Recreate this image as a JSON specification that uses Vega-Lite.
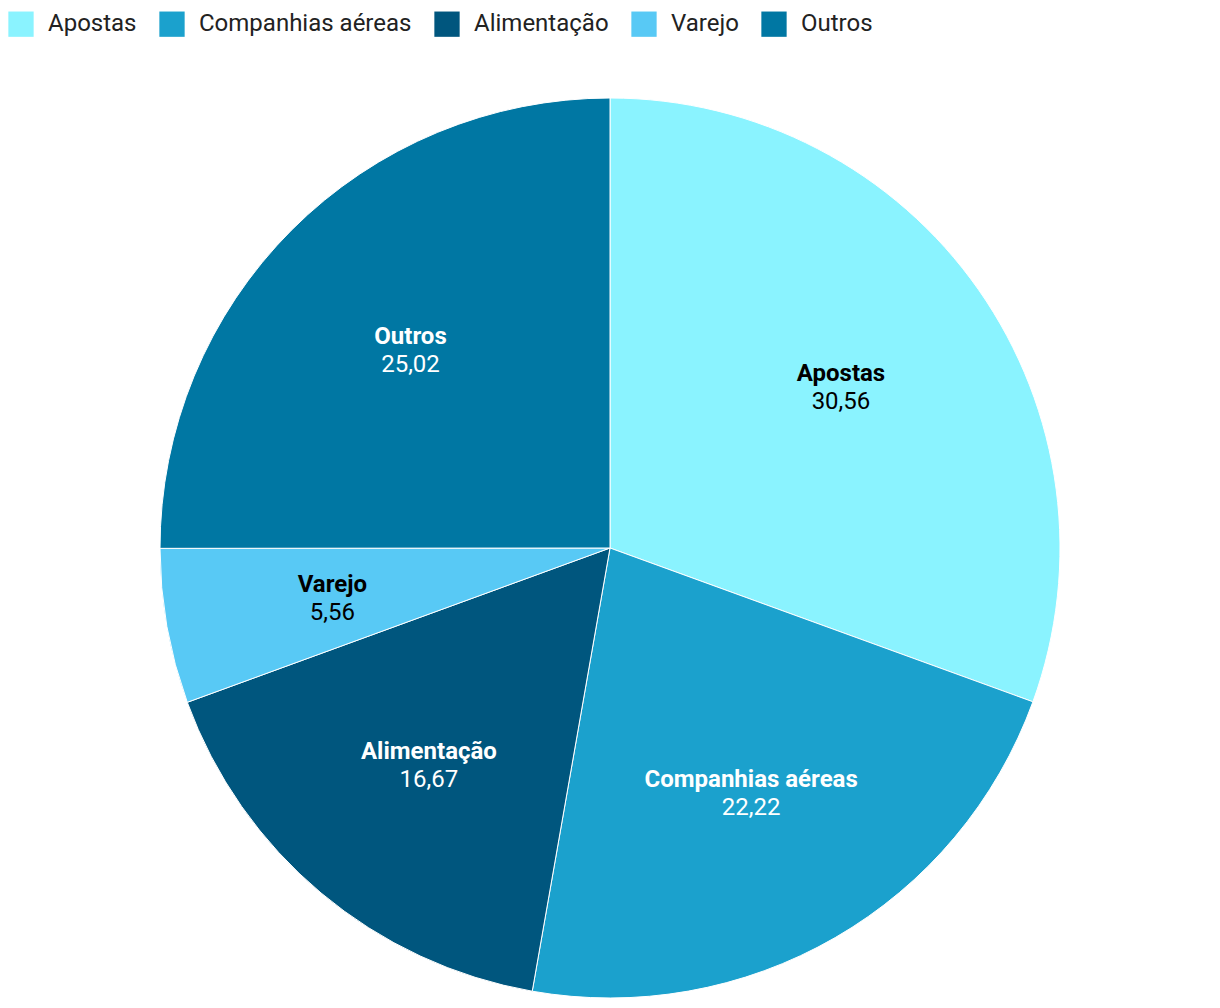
{
  "$schema": "https://vega.github.io/schema/vega-lite/v6.json",
  "width": 1220,
  "height": 1096,
  "padding": 0,
  "autosize": {"type": "none"},
  "background": "white",
  "config": {
    "view": {"stroke": null},
    "font": "Roboto",
    "locale": {"number": {"decimal": ",", "thousands": ".", "grouping": [3], "currency": ["R$", ""]}}
  },
  "data": {
    "values": [
      {"cat": "Apostas", "value": 30.56, "idx": 1},
      {"cat": "Companhias aéreas", "value": 22.22, "idx": 2},
      {"cat": "Alimentação", "value": 16.67, "idx": 3},
      {"cat": "Varejo", "value": 5.56, "idx": 4},
      {"cat": "Outros", "value": 25.02, "idx": 5}
    ]
  },
  "encoding": {
    "theta": {"field": "value", "type": "quantitative", "stack": true},
    "order": {"field": "idx", "type": "quantitative"}
  },
  "layer": [
    {
      "mark": {"type": "arc", "outerRadius": 450, "stroke": "white", "strokeWidth": 1},
      "encoding": {
        "color": {
          "field": "cat",
          "type": "nominal",
          "sort": ["Apostas", "Companhias aéreas", "Alimentação", "Varejo", "Outros"],
          "scale": {
            "domain": ["Apostas", "Companhias aéreas", "Alimentação", "Varejo", "Outros"],
            "range": ["#8AF3FF", "#1BA1CD", "#00567E", "#58C9F5", "#0077A3"]
          },
          "legend": {
            "title": null,
            "orient": "none",
            "legendX": 8,
            "legendY": 11,
            "direction": "horizontal",
            "symbolType": "square",
            "symbolSize": 640,
            "symbolStrokeWidth": 0,
            "symbolOpacity": 1,
            "labelFont": "Roboto",
            "labelFontSize": 24,
            "labelColor": "#222222",
            "labelOffset": 14,
            "columnPadding": 22,
            "labelLimit": 300
          }
        }
      }
    },
    {
      "mark": {"type": "text", "radius": 282, "dy": -12, "fontSize": 24, "fontWeight": "bold", "font": "Roboto"},
      "encoding": {
        "text": {"field": "cat"},
        "color": {
          "condition": {"test": "datum.cat === 'Apostas' || datum.cat === 'Varejo'", "value": "#000000"},
          "value": "#ffffff"
        }
      }
    },
    {
      "mark": {"type": "text", "radius": 282, "dy": 16, "fontSize": 24, "font": "Roboto"},
      "encoding": {
        "text": {"field": "value", "type": "quantitative", "format": ".2f"},
        "color": {
          "condition": {"test": "datum.cat === 'Apostas' || datum.cat === 'Varejo'", "value": "#000000"},
          "value": "#ffffff"
        }
      }
    }
  ]
}
